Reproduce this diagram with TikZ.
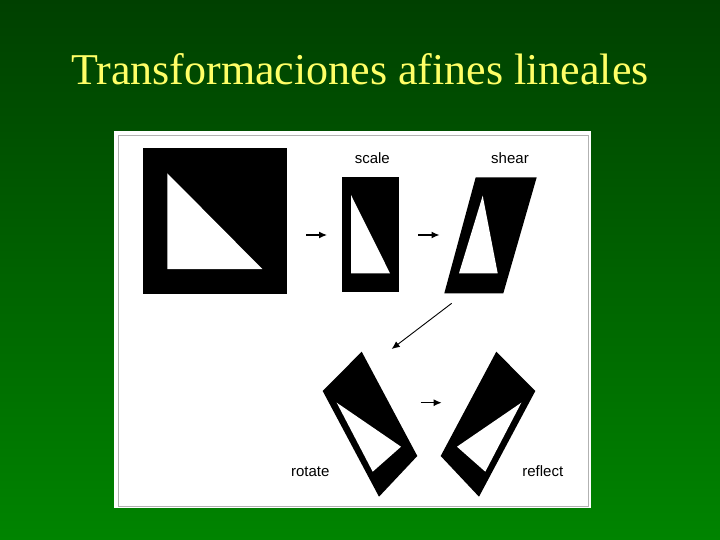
\documentclass[tikz,border=0pt]{standalone}
\usepackage{fontspec}
\setmainfont{Liberation Serif}
\newfontfamily\labelfont{Liberation Sans}
\usetikzlibrary{arrows.meta}

\definecolor{bgtop}{RGB}{0,64,0}
\definecolor{bgbottom}{RGB}{0,132,0}
\definecolor{titleyellow}{RGB}{255,255,102}

\begin{document}
\begin{tikzpicture}[
    x=1pt, y=-1pt,
    figure/.style={fill=black},
    hole/.style={fill=white},
    tarrow/.style={draw, line width=1.3pt, -{Latex[length=8pt, width=7pt]}},
    caption/.style={font=\labelfont\fontsize{15}{17}\selectfont, anchor=base, inner sep=0pt}
]

% Background and panel
\useasboundingbox (0,0) rectangle (720,540);
\shade[top color=bgtop, bottom color=bgbottom] (0,0) rectangle (720,540);
\fill[white] (114,131) rectangle (591,508);
\draw[gray!60, line width=1pt] (118,135.5) rectangle (588.5,506);

% Title
\node[anchor=base, inner sep=0pt, text=titleyellow, font=\fontsize{44}{52}\selectfont] (title) at (360,85) {Transformaciones afines lineales};

% Original square
\fill[figure] (143.3,147.7) rectangle (286.7,294);
\fill[hole] (167.3,173.3) -- (167.3,269) -- (262.3,269) -- cycle;

% Scale
\fill[figure] (342.3,177.3) rectangle (398.7,291.7);
\fill[hole] (351,195) -- (351,273.3) -- (390,273.3) -- cycle;
\node[caption] (scale) at (372.3,163.5) {scale};

% Shear
\fill[figure] (475.7,177.3) -- (536.7,177.3) -- (503.3,293.3) -- (444.3,293.3) -- cycle;
\fill[hole] (482.7,195.7) -- (459,273.3) -- (497.7,273.3) -- cycle;
\node[caption] (shear) at (510,163.5) {shear};

% Rotate
\fill[figure] (361.7,351.7) -- (322.7,391) -- (379,496.7) -- (417.3,456) -- cycle;
\fill[hole] (336.7,402.7) -- (401,446.7) -- (372.7,471.7) -- cycle;
\node[caption] (rotate) at (310.3,476.5) {rotate};

% Reflect
\fill[figure] (496.3,351.7) -- (535.3,391) -- (479,496.7) -- (440.7,456) -- cycle;
\fill[hole] (521.3,402.7) -- (457,446.7) -- (485.3,471.7) -- cycle;
\node[caption] (reflect) at (542.8,476.5) {reflect};

% Arrows
\coordinate (a1s) at (306,235);
\coordinate (a1e) at (327,235);
\coordinate (a2s) at (418.3,235);
\coordinate (a2e) at (439.5,235);
\coordinate (a3s) at (451.7,303.3);
\coordinate (a3e) at (391.7,349);
\coordinate (a4s) at (420.7,402.7);
\coordinate (a4e) at (441.7,402.7);
\draw[tarrow] (a1s) -- (a1e);
\draw[tarrow] (a2s) -- (a2e);
\draw[tarrow, line width=0.9pt] (a3s) -- (a3e);
\draw[tarrow] (a4s) -- (a4e);

\end{tikzpicture}
\end{document}
